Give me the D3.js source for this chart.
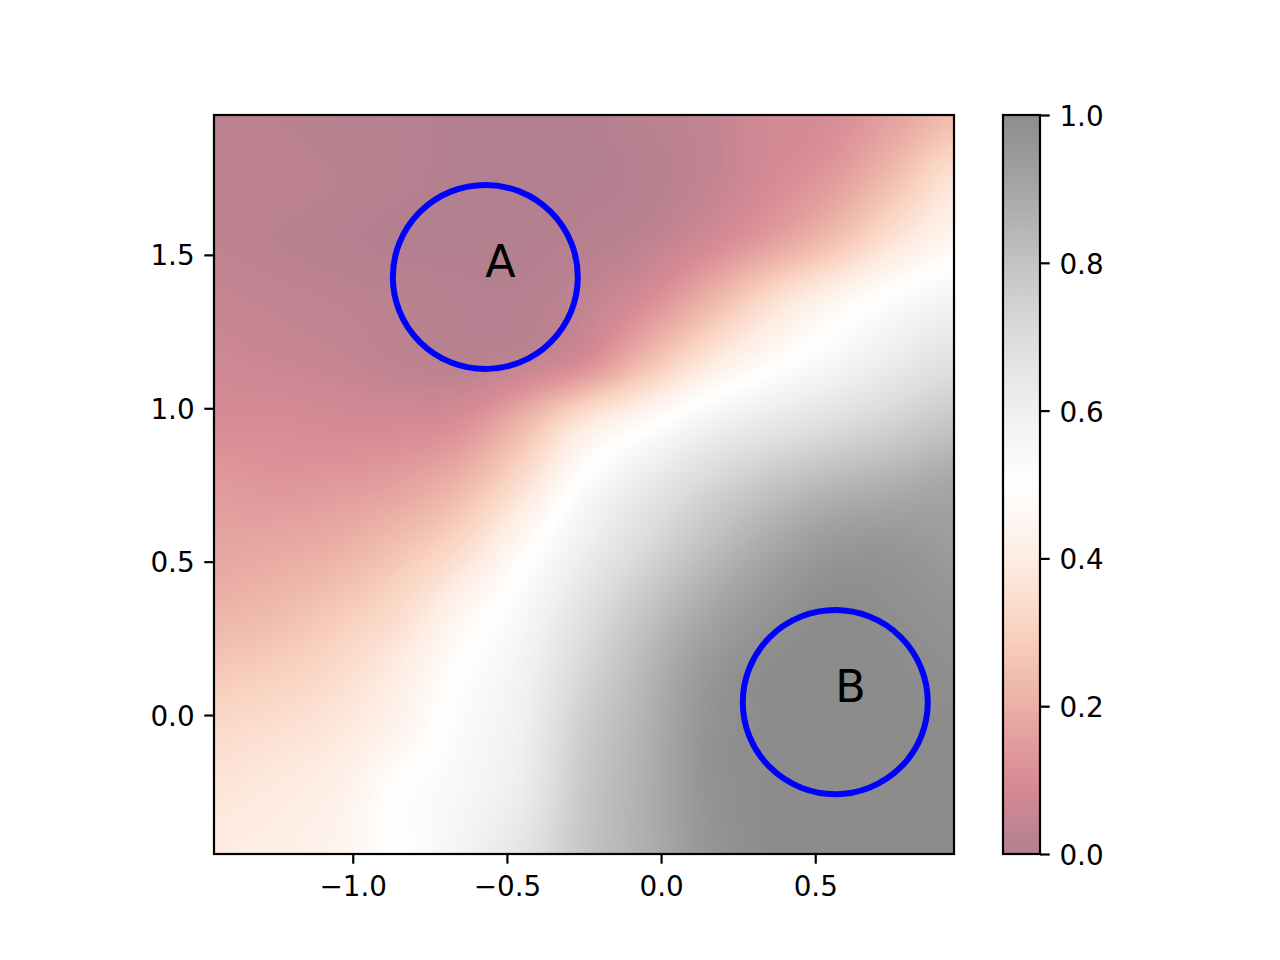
<!DOCTYPE html>
<html>
<head>
<meta charset="utf-8">
<script src="https://cdn.jsdelivr.net/npm/d3@7"></script>
<style>
  body { margin: 0; background: #fff; }
  svg text { font-family: "DejaVu Sans", sans-serif; }
</style>
</head>
<body>
<div id="chart"></div>
<script>
const width = 1280,
      height = 960;

const xCoords = [-1.45, -1.25, -1.05, -0.85, -0.65, -0.45, -0.25, -0.05, 0.15, 0.35, 0.55, 0.75, 0.95];
const yCoords = [1.95, 1.75, 1.55, 1.35, 1.15, 0.95, 0.75, 0.55, 0.35, 0.15, -0.05, -0.25, -0.45];

const rowY195 = [0.02, 0.02, 0.01, 0.01, 0.00, 0.00, 0.00, 0.02, 0.04, 0.08, 0.10, 0.16, 0.24];
const rowY175 = [0.03, 0.03, 0.02, 0.01, 0.00, 0.00, 0.00, 0.01, 0.04, 0.09, 0.14, 0.24, 0.36];
const rowY155 = [0.03, 0.02, 0.01, 0.00, 0.00, 0.00, 0.01, 0.03, 0.08, 0.15, 0.24, 0.36, 0.45];
const rowY135 = [0.05, 0.04, 0.03, 0.02, 0.01, 0.01, 0.04, 0.10, 0.21, 0.34, 0.44, 0.52, 0.58];
const rowY115 = [0.07, 0.06, 0.05, 0.03, 0.02, 0.04, 0.10, 0.24, 0.38, 0.48, 0.55, 0.62, 0.68];
const rowY095 = [0.10, 0.10, 0.09, 0.09, 0.11, 0.22, 0.38, 0.48, 0.58, 0.64, 0.69, 0.74, 0.79];
const rowY075 = [0.14, 0.13, 0.14, 0.16, 0.22, 0.35, 0.52, 0.63, 0.72, 0.79, 0.84, 0.87, 0.90];
const rowY055 = [0.17, 0.18, 0.20, 0.25, 0.33, 0.47, 0.60, 0.71, 0.81, 0.89, 0.95, 0.96, 0.94];
const rowY035 = [0.21, 0.23, 0.27, 0.33, 0.44, 0.54, 0.67, 0.79, 0.89, 0.96, 1.00, 0.99, 0.97];
const rowY015 = [0.27, 0.29, 0.33, 0.40, 0.50, 0.58, 0.72, 0.84, 0.95, 1.00, 1.00, 1.00, 0.99];
const rowYm005 = [0.33, 0.35, 0.38, 0.44, 0.53, 0.60, 0.76, 0.86, 0.97, 1.00, 1.00, 1.00, 1.00];
const rowYm025 = [0.37, 0.39, 0.42, 0.50, 0.55, 0.62, 0.78, 0.87, 0.97, 1.00, 1.00, 1.00, 1.00];
const rowYm045 = [0.40, 0.41, 0.44, 0.50, 0.57, 0.66, 0.79, 0.87, 0.96, 1.00, 1.00, 1.00, 1.00];

const probRows = [rowY195, rowY175, rowY155, rowY135, rowY115, rowY095, rowY075,
                  rowY055, rowY035, rowY015, rowYm005, rowYm025, rowYm045];

// the two marked states
const stateNames = ["A", "B"];
const stateX = [-0.57, 0.565];
const stateY = [1.428, 0.042];
const stateRadius = 0.3;

const xTicks = [-1.0, -0.5, 0.0, 0.5];
const yTicks = [0.0, 0.5, 1.0, 1.5];
const cbTicks = [0.0, 0.2, 0.4, 0.6, 0.8, 1.0];

// matplotlib RdGy
const rdgy = ["#67001f", "#b2182b", "#d6604d", "#f4a582", "#fddbc7", "#ffffff",
              "#e0e0e0", "#bababa", "#878787", "#4d4d4d", "#1a1a1a"];
const alpha = 0.5;

const plot = { left: 214, right: 954, top: 115, bottom: 854 };
const cbBox = { left: 1003, right: 1040 };

const fontSize = 27.8,
      lw = 2.2,
      tickLen = 9.7;

const x = d3.scaleLinear()
    .domain([-1.45, 0.95])
    .range([plot.left, plot.right]);

const y = d3.scaleLinear()
    .domain([-0.453, 1.956])
    .range([plot.bottom, plot.top]);

const color = d3.scaleLinear()
    .domain(d3.range(rdgy.length).map(i => i / (rdgy.length - 1)))
    .range(rdgy)
    .clamp(true);

const svg = d3.select("#chart")
  .append("svg")
    .attr("width", width)
    .attr("height", height);

// ---- heat map (bicubic over the read grid, like imshow) ----
const gx = d3.scaleLinear().domain([xCoords[0], xCoords[xCoords.length - 1]]).range([0, xCoords.length - 1]);
const gy = d3.scaleLinear().domain([yCoords[0], yCoords[yCoords.length - 1]]).range([0, yCoords.length - 1]);

function cell(i, j) {
  i = Math.max(0, Math.min(probRows.length - 1, i));
  j = Math.max(0, Math.min(xCoords.length - 1, j));
  return probRows[i][j];
}
function cubic(p0, p1, p2, p3, t) {
  return p1 + 0.5 * t * (p2 - p0 + t * (2 * p0 - 5 * p1 + 4 * p2 - p3 + t * (3 * (p1 - p2) + p3 - p0)));
}
function sample(fx, fy) {
  const j = Math.floor(fx), i = Math.floor(fy);
  const tx = fx - j, ty = fy - i;
  const r = [-1, 0, 1, 2].map(di =>
    cubic(cell(i + di, j - 1), cell(i + di, j), cell(i + di, j + 1), cell(i + di, j + 2), tx));
  return cubic(r[0], r[1], r[2], r[3], ty);
}

const pw = plot.right - plot.left,
      ph = plot.bottom - plot.top;
const canvas = document.createElement("canvas");
canvas.width = pw;
canvas.height = ph;
const ctx = canvas.getContext("2d");
const img = ctx.createImageData(pw, ph);
for (let py = 0; py < ph; py++) {
  const fy = gy(y.invert(plot.top + py + 0.5));
  for (let px = 0; px < pw; px++) {
    const fx = gx(x.invert(plot.left + px + 0.5));
    const v = Math.max(0, Math.min(1, sample(fx, fy)));
    const c = d3.rgb(color(v));
    const k = (py * pw + px) * 4;
    img.data[k] = c.r * alpha + 255 * (1 - alpha);
    img.data[k + 1] = c.g * alpha + 255 * (1 - alpha);
    img.data[k + 2] = c.b * alpha + 255 * (1 - alpha);
    img.data[k + 3] = 255;
  }
}
ctx.putImageData(img, 0, 0);

svg.append("image")
    .attr("x", plot.left)
    .attr("y", plot.top)
    .attr("width", pw)
    .attr("height", ph)
    .attr("preserveAspectRatio", "none")
    .attr("href", canvas.toDataURL());

// ---- circles and labels ----
const states = stateNames.map((d, i) => ({ name: d, x: stateX[i], y: stateY[i] }));

svg.append("g")
  .selectAll("ellipse")
  .data(states)
  .enter()
  .append("ellipse")
    .attr("cx", d => x(d.x))
    .attr("cy", d => y(d.y))
    .attr("rx", d => x(d.x + stateRadius) - x(d.x))
    .attr("ry", d => y(d.y) - y(d.y + stateRadius))
    .attr("fill", "none")
    .attr("stroke", "#0000ff")
    .attr("stroke-width", 6);

svg.append("g")
  .selectAll("text")
  .data(states)
  .enter()
  .append("text")
    .attr("x", d => x(d.x))
    .attr("y", d => y(d.y))
    .attr("font-size", 44.4)
    .attr("fill", "#000")
    .text(d => d.name);

// ---- axes ----
function styleAxis(g) {
  g.select(".domain").remove();
  g.attr("font-family", null).attr("font-size", null);
  g.selectAll(".tick line").attr("stroke", "#000").attr("stroke-width", lw);
  g.selectAll(".tick text").attr("fill", "#000").style("font-size", fontSize + "px");
}

svg.append("g")
    .attr("transform", `translate(0,${plot.bottom})`)
    .call(d3.axisBottom(x).tickValues(xTicks).tickFormat(d3.format(".1f"))
        .tickSize(tickLen).tickPadding(13))
    .call(styleAxis);

svg.append("g")
    .attr("transform", `translate(${plot.left},0)`)
    .call(d3.axisLeft(y).tickValues(yTicks).tickFormat(d3.format(".1f"))
        .tickSize(tickLen).tickPadding(9.7))
    .call(styleAxis)
    .call(g => g.selectAll(".tick text").attr("dy", "0.36em"));

svg.append("rect")
    .attr("x", plot.left)
    .attr("y", plot.top)
    .attr("width", pw)
    .attr("height", ph)
    .attr("fill", "none")
    .attr("stroke", "#000")
    .attr("stroke-width", lw);

// ---- colorbar ----
const cbY = d3.scaleLinear()
    .domain([0, 1])
    .range([plot.bottom, plot.top]);

const grad = svg.append("defs")
  .append("linearGradient")
    .attr("id", "cbgrad")
    .attr("x1", 0).attr("y1", 1)
    .attr("x2", 0).attr("y2", 0);

grad.selectAll("stop")
  .data(color.domain())
  .enter()
  .append("stop")
    .attr("offset", d => d)
    .attr("stop-color", d => color(d))
    .attr("stop-opacity", alpha);

svg.append("rect")
    .attr("x", cbBox.left)
    .attr("y", cbY(1))
    .attr("width", cbBox.right - cbBox.left)
    .attr("height", cbY(0) - cbY(1))
    .attr("fill", "url(#cbgrad)");

svg.append("g")
    .attr("transform", `translate(${cbBox.right},0)`)
    .call(d3.axisRight(cbY).tickValues(cbTicks).tickFormat(d3.format(".1f"))
        .tickSize(tickLen).tickPadding(9.7))
    .call(styleAxis)
    .call(g => g.selectAll(".tick text").attr("dy", "0.38em"));

svg.append("rect")
    .attr("x", cbBox.left)
    .attr("y", cbY(1))
    .attr("width", cbBox.right - cbBox.left)
    .attr("height", cbY(0) - cbY(1))
    .attr("fill", "none")
    .attr("stroke", "#000")
    .attr("stroke-width", lw);
</script>
</body>
</html>
